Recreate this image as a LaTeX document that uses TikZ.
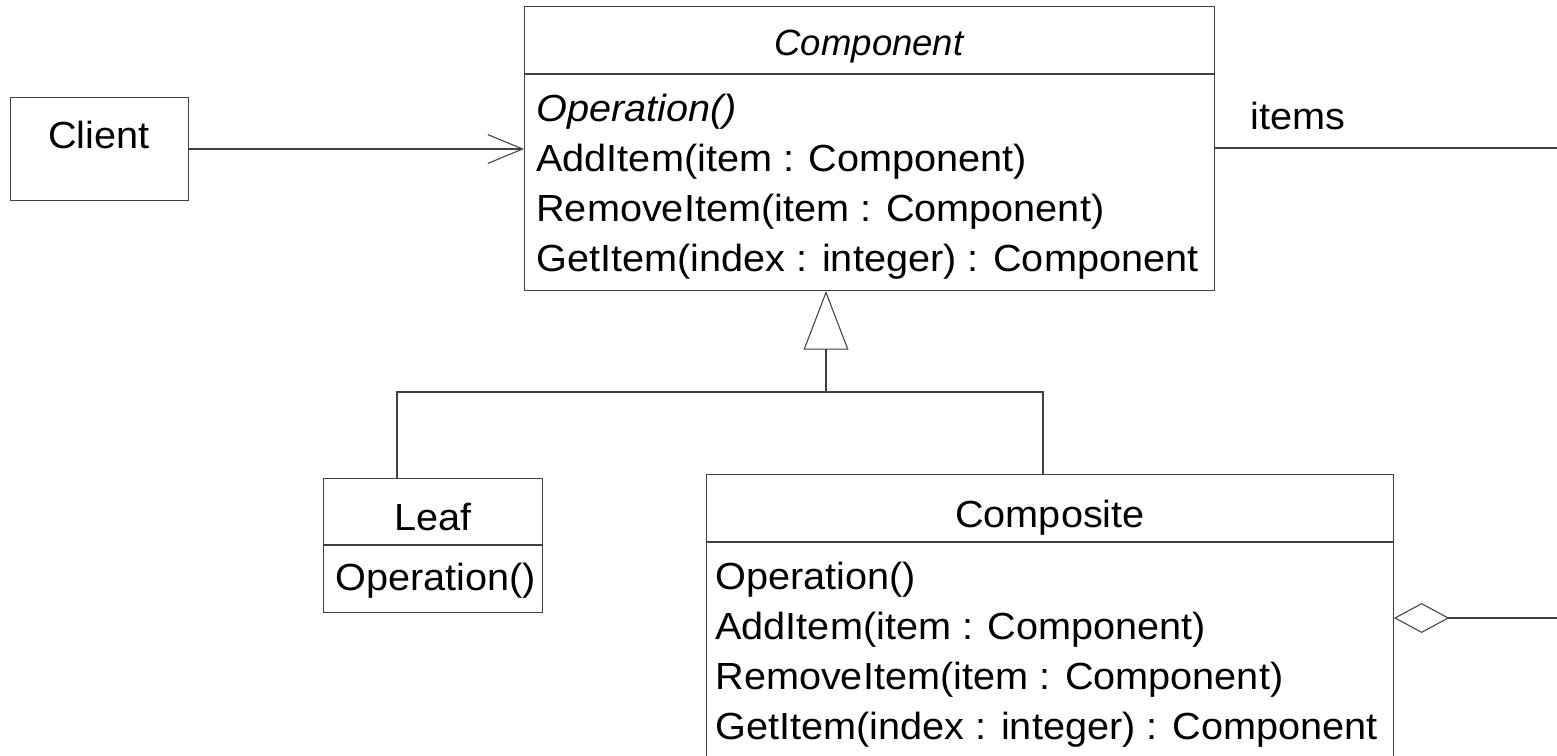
\documentclass[tikz,border=0pt]{standalone}
\usepackage{fontspec}
\setmainfont{Liberation Sans}[FakeStretch=1.05]
\newfontfamily\titlefont{Liberation Sans}
\usetikzlibrary{arrows.meta}
\tikzset{
  umlbox/.style={draw=black!75, line width=0.6pt, inner sep=0pt, anchor=north west},
  link/.style={draw=black!75, line width=0.6pt},
  member/.style={font=\fontsize{21.5}{26}\selectfont, inner sep=0pt, anchor=base west},
  classname/.style={font=\fontsize{21.5}{26}\selectfont, inner sep=0pt, anchor=base},
  assoc/.style={link, -{Straight Barb[length=19.8pt, width=16.4pt]}},
  inherit/.style={link, -{Triangle[open, fill=white, length=33.4pt, width=25.5pt]}},
  aggr/.style={link, -{Diamond[open, fill=white, length=31.5pt, width=17pt]}},
}
\begin{document}
\begin{tikzpicture}[x=0.02cm, y=-0.02cm]
\useasboundingbox (0,0) rectangle (1557,756);
\clip (0,0) rectangle (1557,756);

% Class boxes
\node[umlbox, minimum width=3.56cm, minimum height=2.06cm] (client) at (10,97) {};
\node[umlbox, minimum width=13.8cm, minimum height=5.68cm] (component) at (524,6) {};
\node[umlbox, minimum width=4.38cm, minimum height=2.68cm] (leaf) at (323,478) {};
\node[umlbox, minimum width=13.74cm, minimum height=6cm] (composite) at (706,474) {};

% Compartment lines
\draw[link] (component.west |- 0,74) -- (component.east |- 0,74);
\draw[link] (leaf.west |- 0,545) -- (leaf.east |- 0,545);
\draw[link] (composite.west |- 0,542) -- (composite.east |- 0,542);

% Class names
\node[classname] (clientname) at (99,149) {Client};
\node[classname, font=\fontsize{20.8}{26}\titlefont\itshape] (componentname) at (869,56) {Component};
\node[classname] (leafname) at (433,530) {Leaf};
\node[classname] (compositename) at (1050,527) {Composite};

% Operations
\node[member, font=\fontsize{21.5}{26}\selectfont\itshape] (compop0) at (536,121.5) {Operation()};
\foreach \txt [count=\i] in {{AddItem(item : Component)}, {RemoveItem(item : Component)}, {GetItem(index : integer) : Component}}
  \node[member] (compop\i) at (536,121.5+50*\i) {\txt};
\node[member] (leafop) at (335,590) {Operation()};
\foreach \txt [count=\i from 0] in {{Operation()}, {AddItem(item : Component)}, {RemoveItem(item : Component)}, {GetItem(index : integer) : Component}}
  \node[member] (compositeop\i) at (715,589+50*\i) {\txt};

% Connectors
\coordinate (join) at (826,392);
\coordinate (leafjoin) at (397,392);
\coordinate (compjoin) at (1043,392);
\coordinate (itemsend) at (1557,148);
\coordinate (partsend) at (1557,618);
\draw[assoc] (client.east) -- (client.east -| component.west);
\draw[inherit] (join) -- (join |- component.south);
\draw[link] (leafjoin |- leaf.north) -- (leafjoin) -- (compjoin) -- (compjoin |- composite.north);
\draw[link] (itemsend -| component.east) -- (itemsend);
\node[member] (items) at (1250,130) {items};
\draw[aggr] (partsend) -- (partsend -| composite.east);

\end{tikzpicture}
\end{document}
